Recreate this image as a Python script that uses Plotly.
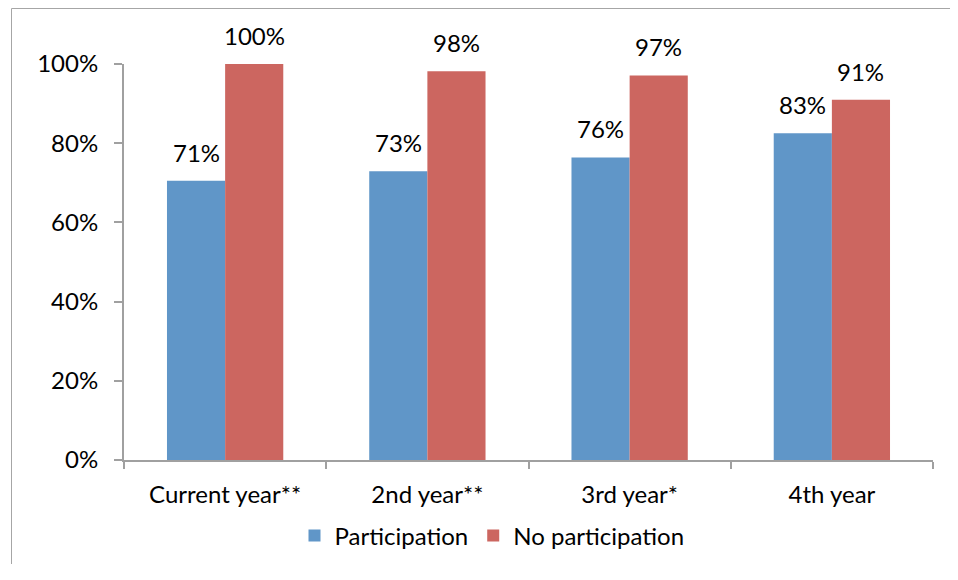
import plotly.graph_objects as go

categories = ["Current year**", "2nd year**", "3rd year*", "4th year"]
participation = [70.5, 72.9, 76.4, 82.5]
no_participation = [100.0, 98.2, 97.1, 91.0]
participation_labels = ["71%", "73%", "76%", "83%"]
no_participation_labels = ["100%", "98%", "97%", "91%"]
y_ticks = [0, 20, 40, 60, 80, 100]
y_tick_labels = ["0%", "20%", "40%", "60%", "80%", "100%"]

FONT = "Lato"
FS = 24
BLUE = "#6096C8"
RED = "#CC6660"
GREY = "#A0A0A0"

fig = go.Figure()
fig.add_trace(go.Bar(name="Participation", x=categories, y=participation,
                     marker=dict(color=BLUE, line=dict(width=0))))
fig.add_trace(go.Bar(name="No participation", x=categories, y=no_participation,
                     marker=dict(color=RED, line=dict(width=0))))

for c, v, t in zip(categories, participation, participation_labels):
    fig.add_annotation(x=c, y=v, text=t, showarrow=False, xshift=-29, yshift=12,
                       yanchor="bottom", font=dict(family=FONT, size=FS, color="#000"))
for c, v, t in zip(categories, no_participation, no_participation_labels):
    fig.add_annotation(x=c, y=v, text=t, showarrow=False, xshift=29, yshift=12,
                       yanchor="bottom", font=dict(family=FONT, size=FS, color="#000"))

# page has an 8px body margin; figure coordinates are screen minus 8
L, R, T, B = 116, 17, 56, 104
W, H = 942, 556
pw, ph = W - L - R, H - T - B

def px_x(p):
    return (p - L) / pw

def px_y(p):
    return (H - B - p) / ph

fig.add_shape(type="line", xref="paper", yref="paper",
              x0=px_x(3.5), x1=px_x(3.5), y0=px_y(0.5), y1=px_y(700),
              line=dict(color="#A6A6A6", width=1))
fig.add_shape(type="line", xref="paper", yref="paper",
              x0=px_x(3.5), x1=px_x(1100), y0=px_y(0.5), y1=px_y(0.5),
              line=dict(color="#A6A6A6", width=1))

fig.update_layout(
    width=W, height=H,
    margin=dict(l=L, r=R, t=T, b=B, autoexpand=False),
    paper_bgcolor="white", plot_bgcolor="white",
    barmode="group", bargap=0.425, bargroupgap=0,
    font=dict(family=FONT, size=FS, color="#000"),
    showlegend=True,
    legend=dict(orientation="h", x=px_x(484), y=px_y(528), xanchor="center",
                yanchor="middle", font=dict(family=FONT, size=FS, color="#000"),
                itemwidth=30, traceorder="normal"),
)
fig.update_xaxes(showline=True, linecolor=GREY, linewidth=2, ticks="outside",
                 tickson="boundaries", ticklen=7, tickcolor=GREY, tickwidth=2,
                 showgrid=False, ticklabelstandoff=12,
                 tickfont=dict(family=FONT, size=FS, color="#000"))
fig.update_yaxes(range=[0, 100], showline=True, linecolor=GREY, linewidth=2,
                 ticks="outside", ticklen=8, tickcolor=GREY, tickwidth=2,
                 tickvals=y_ticks, ticktext=y_tick_labels, showgrid=False,
                 zeroline=False, ticklabelstandoff=11,
                 tickfont=dict(family=FONT, size=FS, color="#000"))

fig.write_html("out.html")
